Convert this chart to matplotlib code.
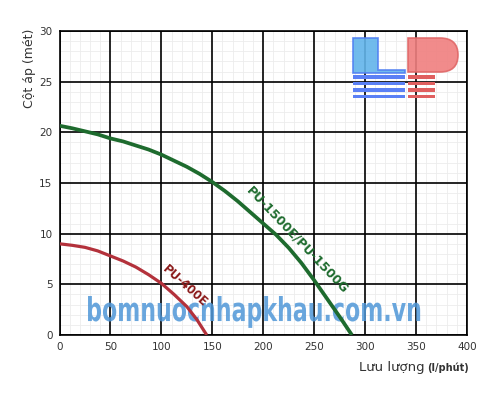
import matplotlib
matplotlib.use('Agg')
import matplotlib.pyplot as plt
import numpy as np
from matplotlib.textpath import TextPath
from matplotlib.patches import PathPatch, Rectangle, Polygon
from matplotlib.font_manager import FontProperties
from matplotlib.transforms import Affine2D
from matplotlib.path import Path

# pump curves (flow l/phut, head m)
flow_1500 = [0, 12.5, 25, 37.5, 50, 62.5, 75, 87.5, 100, 112.5, 125, 137.5, 150,
             162.5, 175, 187.5, 200, 212.5, 225, 237.5, 250, 262.5, 275, 287]
head_1500 = [20.65, 20.4, 20.1, 19.8, 19.4, 19.1, 18.7, 18.3, 17.8, 17.2, 16.6, 15.9, 15.1,
             14.2, 13.2, 12.1, 11.0, 9.9, 8.6, 7.1, 5.4, 3.6, 1.8, 0]
flow_400 = [0, 12.5, 25, 37.5, 50, 62.5, 75, 87.5, 100, 112.5, 125, 135, 144.5]
head_400 = [9.0, 8.85, 8.65, 8.3, 7.8, 7.3, 6.7, 5.95, 5.1, 4.0, 2.8, 1.5, 0]

x_ticks = [0, 50, 100, 150, 200, 250, 300, 350, 400]
y_ticks = [0, 5, 10, 15, 20, 25, 30]

fig = plt.figure(figsize=(5, 4), dpi=100)
ax = fig.add_axes([0.119, 0.1625, 0.815, 0.76])

ax.set_xlim(0, 400)
ax.set_ylim(0, 30)
ax.set_xticks(x_ticks)
ax.set_yticks(y_ticks)
ax.set_xticks([v for v in range(0, 401, 10) if v % 50], minor=True)
ax.set_yticks([v for v in range(0, 31) if v % 5], minor=True)
ax.grid(which='minor', color='#ececec', lw=0.6)
ax.set_axisbelow(True)
# major grid drawn on top of the light one
for v in x_ticks:
    ax.axvline(v, color='black', lw=1.2, zorder=1)
for v in y_ticks:
    ax.axhline(v, color='black', lw=1.2, zorder=1)
ax.tick_params(which='both', length=0, labelsize=7.5, labelcolor='#333333', pad=5)
for s in ax.spines.values():
    s.set_color('black')
    s.set_linewidth(1.2)

# watermark text, squeezed into its box
fp = FontProperties(family='Liberation Sans Narrow', weight='bold')
tp = TextPath((0, 0), 'bomnuocnhapkhau.com.vn', size=10, prop=fp)
ext = tp.get_extents()
x0, x1, y0, y1 = 28, 354, 0.7, 3.85
tr = Affine2D().translate(-ext.x0, -ext.y0).scale((x1 - x0) / ext.width, (y1 - y0) / ext.height).translate(x0, y0)
ax.add_patch(PathPatch(tr.transform_path(tp), facecolor='#4f97d8', edgecolor='none', alpha=0.85, zorder=3))

ax.plot(flow_1500, head_1500, color='#1e6b2e', lw=2.7, zorder=4, solid_capstyle='butt', solid_joinstyle='round')
ax.plot(flow_400, head_400, color='#b3313b', lw=2.3, zorder=4, solid_capstyle='butt', solid_joinstyle='round')

ax.text(233.6, 9.4, 'PU-1500E/PU-1500G', rotation=-46.5, rotation_mode='anchor',
        ha='center', va='center', fontsize=9, fontweight='bold', color='#1e6b2e', zorder=5)
ax.text(123, 4.8, 'PU-400E', rotation=-42, rotation_mode='anchor',
        ha='center', va='center', fontsize=8.5, fontweight='bold', color='#8b1a1a', zorder=5)

fig.text(30 / 500, 1 - 68 / 400, 'Cột áp (mét)', rotation=90, ha='center', va='center',
         fontsize=9, color='#333333')
fig.text(425 / 500, 1 - 367 / 400, 'Lưu lượng', ha='right', va='center', fontsize=9.5, color='#333333')
fig.text(427 / 500, 1 - 368 / 400, '(l/phút)', ha='left', va='center', fontsize=7, fontweight='bold', color='#333333')

# LP logo drawn in pixel units
lg = fig.add_axes([350 / 500, 1 - 100 / 400, 112 / 500, 65 / 400])
lg.set_xlim(350, 462)
lg.set_ylim(100, 35)
lg.axis('off')
lg.patch.set_alpha(0)
lg.add_patch(Polygon([(353, 38), (378, 38), (378, 70), (405, 70), (405, 73), (353, 73)],
                     closed=True, facecolor='#62b4ea', edgecolor='#4f7ef2', lw=1.2, alpha=0.9))
verts = [(408, 38), (440, 38), (458, 38), (458, 55), (458, 72), (440, 72), (408, 72), (408, 38)]
codes = [Path.MOVETO, Path.LINETO, Path.CURVE3, Path.CURVE3, Path.CURVE3, Path.CURVE3, Path.LINETO, Path.CLOSEPOLY]
lg.add_patch(PathPatch(Path(verts, codes), facecolor='#f07f7f', edgecolor='#e06767', lw=1.2, alpha=0.9))
for yy in [77, 83.5, 90, 96.5]:
    lg.add_patch(Rectangle((353, yy - 1.6), 52, 3.2, facecolor='#5b80f5', edgecolor='none'))
    lg.add_patch(Rectangle((408, yy - 1.6), 27, 3.2, facecolor='#e06060', edgecolor='none'))

fig.savefig('out.png', dpi=100)
